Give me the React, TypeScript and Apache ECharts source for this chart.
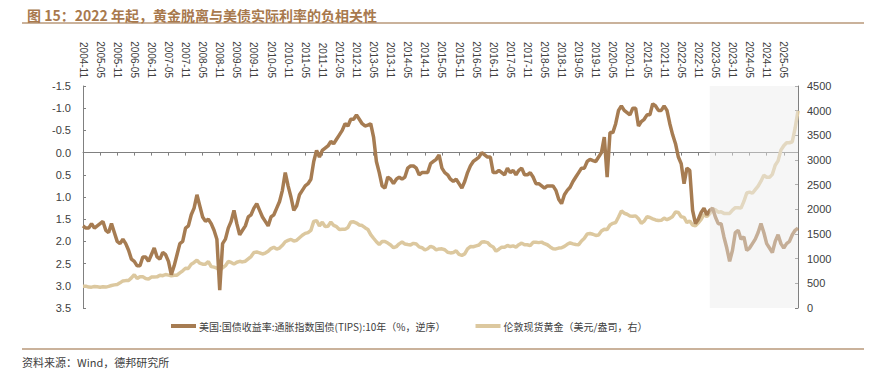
import React, { useEffect, useRef } from "react";
import * as echarts from "echarts";

// Monthly categories 2004-11 .. 2025-10
const startYear = 2004;
const startMonth = 11;
const monthCount = 252;
const months: string[] = [];
for (let k = 0; k < monthCount; k++) {
  const t = startMonth - 1 + k;
  const y = startYear + Math.floor(t / 12);
  const m = (t % 12) + 1;
  months.push(`${y}-${m < 10 ? "0" + m : m}`);
}

// US 10Y TIPS real yield (%), monthly
const tipsYield: number[] = [
  1.65, 1.70,
  1.70, 1.60, 1.70, 1.65, 1.60, 1.55, 1.75, 1.80, 1.60, 1.80, 2.00, 2.05,
  1.95, 2.05, 2.20, 2.40, 2.45, 2.55, 2.55, 2.35, 2.35, 2.45, 2.30, 2.15,
  2.35, 2.40, 2.25, 2.30, 2.45, 2.75, 2.55, 2.30, 2.05, 2.00, 1.70, 1.65,
  1.40, 1.25, 0.95, 1.20, 1.45, 1.55, 1.50, 1.60, 1.75, 1.95, 3.10, 2.05,
  1.95, 1.70, 1.55, 1.30, 1.60, 1.85, 1.75, 1.65, 1.45, 1.40, 1.25, 1.15,
  1.30, 1.45, 1.55, 1.65, 1.45, 1.40, 1.25, 1.10, 0.85, 0.45, 0.75, 1.00,
  1.30, 1.20, 0.95, 0.85, 0.75, 0.70, 0.60, 0.20, -0.05, 0.10, -0.05, -0.10,
  -0.15, -0.25, -0.20, -0.30, -0.40, -0.50, -0.65, -0.60, -0.75, -0.75, -0.85, -0.75,
  -0.65, -0.60, -0.62, -0.65, -0.35, 0.20, 0.45, 0.75, 0.80, 0.55, 0.60, 0.70,
  0.60, 0.55, 0.60, 0.55, 0.35, 0.30, 0.30, 0.35, 0.50, 0.45, 0.45, 0.45,
  0.25, 0.20, 0.15, 0.05, 0.35, 0.45, 0.50, 0.60, 0.65, 0.60, 0.70, 0.80,
  0.65, 0.45, 0.30, 0.20, 0.15, 0.10, 0.00, 0.05, 0.10, 0.10, 0.45, 0.45,
  0.40, 0.45, 0.50, 0.35, 0.45, 0.40, 0.50, 0.40, 0.35, 0.50, 0.50, 0.45,
  0.55, 0.70, 0.70, 0.75, 0.80, 0.75, 0.75, 0.75, 0.85, 1.05, 1.15, 0.95,
  0.85, 0.78, 0.65, 0.55, 0.45, 0.35, 0.35, 0.20, 0.15, 0.18, 0.20, 0.10,
  0.00, -0.35, 0.55, -0.45, -0.45, -0.65, -0.95, -1.05, -0.95, -0.90, -0.85, -1.00,
  -1.00, -0.60, -0.70, -0.75, -0.85, -0.85, -1.10, -1.05, -0.95, -0.95, -1.05, -0.95,
  -0.65, -0.40, -0.20, 0.10, 0.25, 0.70, 0.35, 0.40, 1.30, 1.60, 1.50, 1.35,
  1.25, 1.40, 1.30, 1.25, 1.45, 1.60, 1.60, 1.90, 2.15, 2.45, 2.20, 1.80,
  1.75, 1.95, 1.90, 2.20, 2.15, 2.05, 1.95, 1.80, 1.60, 1.80, 2.05, 2.15,
  2.25, 2.00, 1.85, 2.05, 2.15, 2.05, 2.00, 1.85, 1.75, 1.70,
];

// London spot gold (USD/oz), monthly
const goldPrice: number[] = [
  439, 442,
  424, 423, 434, 429, 422, 431, 424, 438, 456, 469, 476, 510,
  549, 555, 557, 610, 676, 596, 633, 632, 598, 585, 627, 629,
  631, 665, 655, 679, 667, 655, 665, 665, 712, 754, 806, 803,
  889, 923, 968, 909, 888, 889, 939, 839, 829, 807, 760, 816,
  858, 943, 924, 890, 928, 946, 934, 949, 996, 1043, 1127, 1134,
  1118, 1095, 1114, 1148, 1205, 1232, 1193, 1215, 1271, 1343, 1370, 1391,
  1356, 1372, 1424, 1474, 1512, 1529, 1573, 1756, 1772, 1666, 1739, 1652,
  1656, 1743, 1675, 1649, 1591, 1598, 1594, 1630, 1745, 1747, 1722, 1684,
  1671, 1628, 1593, 1487, 1414, 1343, 1287, 1348, 1348, 1316, 1276, 1222,
  1244, 1300, 1336, 1299, 1287, 1279, 1311, 1296, 1239, 1222, 1176, 1201,
  1251, 1227, 1179, 1198, 1199, 1181, 1131, 1117, 1125, 1159, 1086, 1068,
  1097, 1200, 1246, 1242, 1259, 1276, 1337, 1341, 1326, 1266, 1236, 1152,
  1192, 1234, 1231, 1267, 1246, 1260, 1236, 1283, 1315, 1280, 1283, 1265,
  1331, 1331, 1325, 1335, 1303, 1282, 1238, 1202, 1198, 1215, 1221, 1250,
  1291, 1320, 1300, 1286, 1284, 1359, 1413, 1500, 1510, 1495, 1471, 1480,
  1560, 1597, 1591, 1683, 1716, 1732, 1846, 1968, 1921, 1900, 1866, 1858,
  1867, 1808, 1718, 1760, 1850, 1834, 1807, 1785, 1775, 1777, 1821, 1790,
  1817, 1856, 1947, 1937, 1848, 1837, 1732, 1764, 1681, 1665, 1726, 1798,
  1898, 1855, 1912, 2000, 1992, 1943, 1951, 1918, 1916, 1916, 1985, 2034,
  2034, 2024, 2160, 2332, 2350, 2326, 2398, 2470, 2571, 2690, 2651, 2648,
  2709, 2895, 2983, 3200, 3290, 3350, 3350, 3370, 3650, 4000,
];

const leftTicks = { min: -1.5, max: 3.5, interval: 0.5 };
const rightTicks = { min: 0, max: 4500, interval: 500 };
const shadeStart = "2023-03";
const shadeEnd = "2025-10";

const tipsName = "美国:国债收益率:通胀指数国债(TIPS):10年（%，逆序）";
const goldName = "伦敦现货黄金（美元/盎司，右）";
const titleText = "图 15：2022 年起，黄金脱离与美债实际利率的负相关性";
const sourceText = "资料来源：Wind，德邦研究所";

const BROWN = "#a67c52";
const GOLD = "#dcc89f";
const AXIS = "#808080";
const TXT = "#404040";
const LATIN = "'Liberation Sans', Arial, sans-serif";
const CJK = "'Noto Sans CJK SC', sans-serif";

export default function App() {
  const ref = useRef<HTMLDivElement>(null);
  useEffect(() => {
    if (!ref.current) return;
    const chart = echarts.init(ref.current, null, { renderer: "svg" });
    chart.setOption({
      animation: false,
      backgroundColor: "#ffffff",
      title: {
        text: titleText,
        left: 22,
        top: 3,
        textStyle: { fontSize: 14, fontWeight: "bold", color: "#a8794d", fontFamily: CJK },
      },
      graphic: [
        { type: "line", shape: { x1: 22, y1: 23, x2: 864, y2: 23 }, style: { stroke: "#b8987a", lineWidth: 1.5 } },
        { type: "line", shape: { x1: 22, y1: 349, x2: 864, y2: 349 }, style: { stroke: "#b8987a", lineWidth: 1.5 } },
        { type: "text", left: 22, top: 356, style: { text: sourceText, fontSize: 11, fill: TXT, fontFamily: CJK } },
      ],
      legend: {
        left: 166,
        top: 316,
        itemGap: 30,
        itemWidth: 25,
        itemHeight: 4,
        icon: "rect",
        data: [tipsName, goldName],
        textStyle: { fontSize: 10, color: TXT, fontFamily: CJK, padding: [0, 0, 0, -2] },
      },
      grid: { left: 83, right: 75, top: 86, bottom: 67, containLabel: false },
      xAxis: [
        {
          type: "category",
          data: months,
          position: "top",
          boundaryGap: false,
          axisLine: { show: false, onZero: false },
          axisTick: { show: false },
          axisLabel: {
            interval: 5,
            rotate: 90,
            margin: 8,
            fontSize: 10,
            color: TXT,
            fontFamily: LATIN,
          },
        },
        {
          type: "category",
          data: months,
          position: "bottom",
          boundaryGap: false,
          axisLine: { show: true, onZero: true, onZeroAxisIndex: 0, lineStyle: { color: AXIS, width: 1 } },
          axisTick: { show: true, interval: 5, length: 3, lineStyle: { color: AXIS } },
          axisLabel: { show: false },
        },
      ],
      yAxis: [
        {
          type: "value",
          inverse: true,
          min: leftTicks.min,
          max: leftTicks.max,
          interval: leftTicks.interval,
          position: "left",
          axisLine: { show: true, lineStyle: { color: AXIS } },
          axisTick: { show: true, inside: true, length: 3, lineStyle: { color: AXIS } },
          splitLine: { show: false },
          axisLabel: {
            formatter: (v: number) => v.toFixed(1),
            fontSize: 11,
            color: TXT,
            margin: 12,
            fontFamily: LATIN,
          },
        },
        {
          type: "value",
          min: rightTicks.min,
          max: rightTicks.max,
          interval: rightTicks.interval,
          position: "right",
          axisLine: { show: true, lineStyle: { color: AXIS } },
          axisTick: { show: true, inside: true, length: 3, lineStyle: { color: AXIS } },
          splitLine: { show: false },
          axisLabel: {
            formatter: (v: number) => String(v),
            fontSize: 11,
            color: TXT,
            margin: 9,
            fontFamily: LATIN,
          },
        },
      ],
      series: [
        {
          name: goldName,
          type: "line",
          xAxisIndex: 0,
          yAxisIndex: 1,
          data: goldPrice,
          showSymbol: false,
          z: 2,
          lineStyle: { color: GOLD, width: 3.5 },
          itemStyle: { color: GOLD },
        },
        {
          name: tipsName,
          type: "line",
          xAxisIndex: 0,
          yAxisIndex: 0,
          data: tipsYield,
          showSymbol: false,
          z: 3,
          lineStyle: { color: BROWN, width: 3.5 },
          itemStyle: { color: BROWN },
        },
        {
          name: "shade",
          type: "line",
          xAxisIndex: 0,
          yAxisIndex: 0,
          data: [],
          z: 10,
          silent: true,
          markArea: {
            silent: true,
            z: 10,
            itemStyle: { color: "rgba(235,235,235,0.45)" },
            data: [[{ xAxis: shadeStart }, { xAxis: shadeEnd }]],
          },
        },
      ],
    });
    return () => chart.dispose();
  }, []);
  return (
    <div
      ref={ref}
      style={{ position: "fixed", left: 0, top: 0, width: 873, height: 375 }}
    />
  );
}
